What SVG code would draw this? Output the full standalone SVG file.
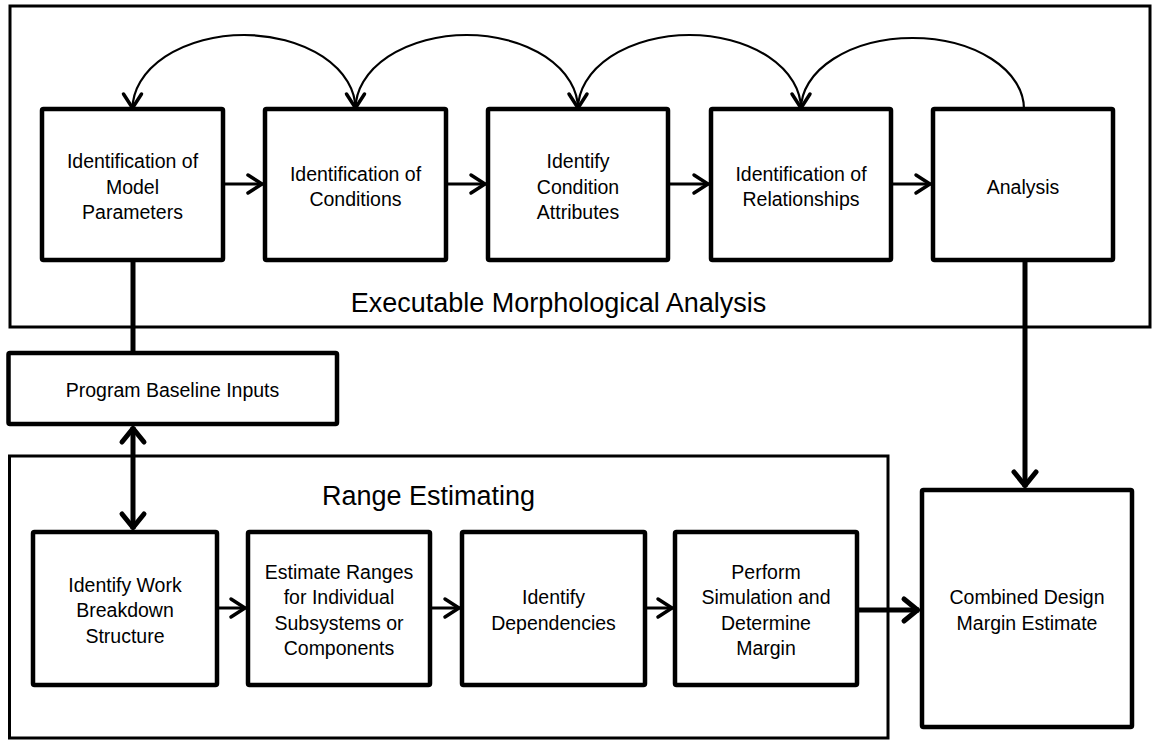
<svg xmlns="http://www.w3.org/2000/svg" width="1152" height="740" viewBox="0 0 1152 740">
<style>
  .frame { fill: none; stroke: #000; stroke-width: 3; }
  .box { fill: #fff; stroke: #000; stroke-width: 4.5; }
  .lbl { font-family: "Liberation Sans", Arial, sans-serif; font-size: 19.5px; fill: #000; text-anchor: middle; }
  .title { font-family: "Liberation Sans", Arial, sans-serif; font-size: 27px; fill: #000; text-anchor: middle; }
  .thin { fill: none; stroke: #000; stroke-width: 3; }
  .arc { fill: none; stroke: #000; stroke-width: 2.2; }
  .thick { fill: none; stroke: #000; stroke-width: 5; }
</style>
<defs>
  <marker id="ah" markerUnits="userSpaceOnUse" markerWidth="40" markerHeight="40" viewBox="-20 -20 40 40" refX="0" refY="0" orient="auto" overflow="visible">
    <path d="M-15,-9 L-1,0 L-15,9" fill="none" stroke="#000" stroke-width="3.5" stroke-linecap="round"/>
  </marker>
  <marker id="ahBig" markerUnits="userSpaceOnUse" markerWidth="40" markerHeight="40" viewBox="-20 -20 40 40" refX="0" refY="0" orient="auto-start-reverse" overflow="visible">
    <path d="M-15,-11 L-1.5,0 L-15,11" fill="none" stroke="#000" stroke-width="5" stroke-linecap="round"/>
  </marker>
</defs>
<rect width="1152" height="740" fill="#fff"/>

<g id="ema-frame">
  <rect class="frame" x="10" y="6" width="1140" height="321"/>
  <text class="title" x="558.5" y="312">Executable Morphological Analysis</text>
</g>
<g id="re-frame">
  <rect class="frame" x="9.5" y="456" width="878.5" height="282"/>
  <text class="title" x="428.5" y="505">Range Estimating</text>
</g>

<g id="connectors">
  <path class="arc" marker-end="url(#ah)" d="M355.5,109 A111.5,74 0 0 0 132.5,109"/>
  <path class="arc" marker-end="url(#ah)" d="M578,109 A111.25,74 0 0 0 355.5,109"/>
  <path class="arc" marker-end="url(#ah)" d="M801,109 A111.5,74 0 0 0 578,109"/>
  <path class="arc" marker-end="url(#ah)" d="M1024,109 A111.5,71 0 0 0 801,109"/>
  <line class="thin" marker-end="url(#ah)" x1="223" y1="184" x2="263" y2="184"/>
  <line class="thin" marker-end="url(#ah)" x1="446" y1="184" x2="486" y2="184"/>
  <line class="thin" marker-end="url(#ah)" x1="668" y1="184" x2="709" y2="184"/>
  <line class="thin" marker-end="url(#ah)" x1="891" y1="184" x2="931" y2="184"/>
  <line class="thick" x1="133" y1="353" x2="133" y2="260"/>
  <line class="thick" marker-start="url(#ahBig)" marker-end="url(#ahBig)" x1="133" y1="427" x2="133" y2="529"/>
  <line class="thick" marker-end="url(#ahBig)" x1="1025" y1="260" x2="1025" y2="487"/>
  <line class="thin" marker-end="url(#ah)" x1="217" y1="608" x2="246" y2="608"/>
  <line class="thin" marker-end="url(#ah)" x1="430" y1="608" x2="460" y2="608"/>
  <line class="thin" marker-end="url(#ah)" x1="645" y1="608" x2="673" y2="608"/>
  <line class="thick" marker-end="url(#ahBig)" x1="857" y1="610" x2="919" y2="610"/>
</g>

<g id="n-model-params">
  <rect class="box" x="42" y="109" width="181" height="151" rx="1.5"/>
  <text class="lbl" x="132.5" y="168">Identification of</text>
  <text class="lbl" x="132.5" y="193.5">Model</text>
  <text class="lbl" x="132.5" y="219">Parameters</text>
</g>
<g id="n-conditions">
  <rect class="box" x="265" y="109" width="181" height="151" rx="1.5"/>
  <text class="lbl" x="355.5" y="180.75">Identification of</text>
  <text class="lbl" x="355.5" y="206.25">Conditions</text>
</g>
<g id="n-attributes">
  <rect class="box" x="488" y="109" width="180" height="151" rx="1.5"/>
  <text class="lbl" x="578" y="168">Identify</text>
  <text class="lbl" x="578" y="193.5">Condition</text>
  <text class="lbl" x="578" y="219">Attributes</text>
</g>
<g id="n-relationships">
  <rect class="box" x="711" y="109" width="180" height="151" rx="1.5"/>
  <text class="lbl" x="801" y="180.75">Identification of</text>
  <text class="lbl" x="801" y="206.25">Relationships</text>
</g>
<g id="n-analysis">
  <rect class="box" x="933" y="109" width="180" height="151" rx="1.5"/>
  <text class="lbl" x="1023" y="193.5">Analysis</text>
</g>

<g id="n-baseline">
  <rect class="box" x="8.5" y="353" width="328.5" height="71" rx="1.5"/>
  <text class="lbl" x="172.5" y="397">Program Baseline Inputs</text>
</g>

<g id="n-wbs">
  <rect class="box" x="33" y="532" width="184" height="153" rx="1.5"/>
  <text class="lbl" x="125" y="591.5">Identify Work</text>
  <text class="lbl" x="125" y="617">Breakdown</text>
  <text class="lbl" x="125" y="642.5">Structure</text>
</g>
<g id="n-ranges">
  <rect class="box" x="248" y="532" width="182" height="153" rx="1.5"/>
  <text class="lbl" x="339" y="578.75">Estimate Ranges</text>
  <text class="lbl" x="339" y="604.25">for Individual</text>
  <text class="lbl" x="339" y="629.75">Subsystems or</text>
  <text class="lbl" x="339" y="655.25">Components</text>
</g>
<g id="n-dependencies">
  <rect class="box" x="462" y="532" width="183" height="153" rx="1.5"/>
  <text class="lbl" x="553.5" y="604.25">Identify</text>
  <text class="lbl" x="553.5" y="629.75">Dependencies</text>
</g>
<g id="n-simulation">
  <rect class="box" x="675" y="532" width="182" height="153" rx="1.5"/>
  <text class="lbl" x="766" y="578.75">Perform</text>
  <text class="lbl" x="766" y="604.25">Simulation and</text>
  <text class="lbl" x="766" y="629.75">Determine</text>
  <text class="lbl" x="766" y="655.25">Margin</text>
</g>

<g id="n-combined">
  <rect class="box" x="922" y="490" width="210" height="237" rx="1.5"/>
  <text class="lbl" x="1027" y="604.25">Combined Design</text>
  <text class="lbl" x="1027" y="629.75">Margin Estimate</text>
</g>
</svg>
